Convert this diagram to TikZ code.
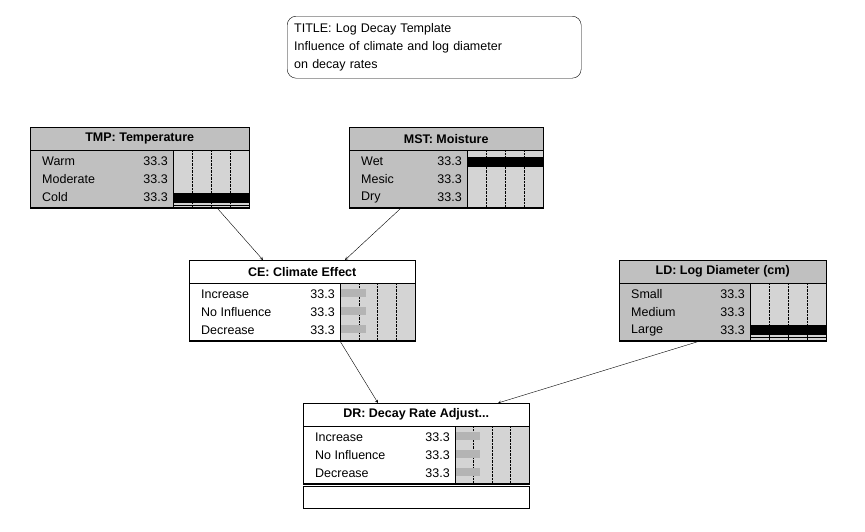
\documentclass[tikz,border=0pt]{standalone}
\usepackage{fontspec}
\setmainfont{Liberation Sans}
\usetikzlibrary{positioning}
\definecolor{netgray}{HTML}{C0C0C0}
\definecolor{bargray}{HTML}{D4D4D4}
\definecolor{belgray}{HTML}{B4B4B4}
\tikzset{
  ttl/.style={draw, font=\bfseries\fontsize{12.5}{14}\selectfont, inner sep=0pt, minimum height=23pt},
  body/.style={draw, inner sep=0pt, anchor=north west},
  st/.style={font=\fontsize{12.5}{14}\selectfont, inner sep=0pt},
}
% id, x1, y1, x2, barx, title, states, fill
\newcommand\netnode[8]{%
  \node[ttl, fill=#8, minimum width=#4-#2, anchor=north west] (#1) at (#2,#3) {#6};
  \node[body, fill=#8, minimum width=#4-#2, minimum height=57pt] (#1b) at (#1.south west) {};
  \fill[bargray] (#5,#3+23) rectangle (#4,#3+80);
  \draw (#5,#3+23) -- (#5,#3+80);
  \foreach \q in {0.25,0.5,0.75}
    \draw[densely dotted] ({#5+\q*(#4-#5)},#3+23) -- ({#5+\q*(#4-#5)},#3+80);
  \foreach \s [count=\i] in {#7} {
    \node[st, anchor=west] at (#2+12,#3+23+\i*18-7) {\s};
    \node[st, anchor=east] at (#5-5,#3+23+\i*18-7) {33.3};
  }
  \draw (#1b.north west) rectangle (#1b.south east);
}
\begin{document}
\begin{tikzpicture}[x=1pt, y=-1pt, >=stealth]
  \useasboundingbox (0,0) rectangle (865,531);

  \node[draw, rounded corners=9pt, align=left, anchor=north west, inner sep=0pt,
        minimum width=294pt, minimum height=62pt, text width=280pt,
        font=\fontsize{12.5}{18}\selectfont] (title) at (287,16)
        {TITLE: Log Decay Template\\Influence of climate and log diameter\\on decay rates};

  \netnode{tmp}{30}{127}{249}{173}{TMP: Temperature}{Warm,Moderate,Cold}{netgray}
  \netnode{mst}{349}{127}{543}{467}{MST: Moisture}{Wet,Mesic,Dry}{netgray}
  \netnode{ce}{189}{260}{415}{340}{CE: Climate Effect}{Increase,No Influence,Decrease}{white}
  \netnode{ld}{619}{260}{826}{750}{LD: Log Diameter (cm)}{Small,Medium,Large}{netgray}
  \netnode{dr}{303}{403}{529}{455}{DR: Decay Rate Adjust...}{Increase,No Influence,Decrease}{white}
  \draw (303,486) rectangle (529,508);

  % findings
  \fill (173,193) rectangle (249,203);
  \draw (173,205.5) -- (249,205.5);
  \fill (467,157) rectangle (543,167);
  \fill (750,325) rectangle (826,335);
  \draw (750,337.5) -- (826,337.5);
  \foreach \y in {293,311,329} {
    \fill[belgray] (341,\y-4) rectangle (366,\y+4);
    \fill[belgray] (456,\y+143-4) rectangle (480,\y+143+4);
  }

  % links
  \coordinate (a1) at (218,209);
  \coordinate (a2) at (400,209);
  \coordinate (a3) at (340,341);
  \coordinate (a4) at (700,341);
  \draw[->] (a1) -- ([xshift=74pt]ce.north west);
  \draw[->] (a2) -- ([xshift=156pt]ce.north west);
  \draw[->] (a3) -- ([xshift=75pt]dr.north west);
  \draw[->] (a4) -- ([xshift=195pt]dr.north west);
\end{tikzpicture}
\end{document}
